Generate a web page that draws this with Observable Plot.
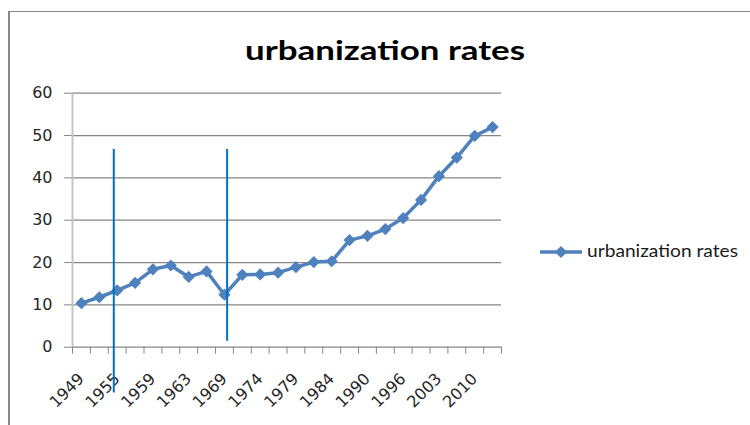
<!DOCTYPE html>
<html><head><meta charset="utf-8">
<script src="https://cdn.jsdelivr.net/npm/d3@7"></script>
<script src="https://cdn.jsdelivr.net/npm/@observablehq/plot@0.6"></script>
<style>
body{margin:0;background:#fff;}
#wrap{position:relative;width:750px;height:425px;overflow:hidden;background:#fff;}
#wrap > svg{position:absolute;left:0;top:0;}
#frame{position:absolute;left:8px;top:11px;width:760px;height:430px;border-top:1px solid #868686;border-left:2px solid #868686;}
#overlay{position:absolute;left:0;top:0;pointer-events:none;}
</style>
</head><body>
<div id="wrap"><div id="frame"></div></div>
<script>
// Data
const years = [1949,1952,1955,1957,1959,1961,1963,1966,1969,1971,1974,1976,1979,1981,1984,1987,1990,1993,1996,2000,2003,2006,2010,2012];
const rates = [10.4,11.8,13.4,15.2,18.4,19.3,16.6,17.9,12.4,17.1,17.2,17.6,18.9,20.1,20.3,25.3,26.3,27.9,30.5,34.8,40.4,44.8,49.9,52.0];
const yTicks = [0,10,20,30,40,50,60];
const seriesName = "urbanization rates";
const titleText = "urbanization rates";
// annotation lines drawn on the chart (category position, y from, y to)
const markerAt = [1.81, 8.15];
const markerFrom = [-10.8, 1.4];
const markerTo = [46.7, 46.7];

const data = years.map((y, i) => ({i, year: y, rate: rates[i]}));
const labelIdx = years.map((d, i) => i).filter(i => i % 2 === 0);
const boundaries = d3.range(0, years.length + 1).map(k => k - 0.5);
const markers = markerAt.map((a, k) => ({at: a, from: markerFrom[k], to: markerTo[k]}));

const chart = Plot.plot({
  width: 750, height: 425,
  marginLeft: 72, marginRight: 249, marginTop: 92.7, marginBottom: 78.3,
  style: {fontFamily: "'DejaVu Sans', sans-serif", fontSize: "16px", color: "#262626", background: "transparent", overflow: "visible"},
  x: {type: "linear", domain: [-0.5, years.length - 0.5], axis: null},
  y: {domain: [0, 60], axis: null},
  marks: [
    Plot.ruleY(yTicks, {stroke: "#868686", strokeWidth: 1.3}),
    Plot.axisY(yTicks, {tickSize: 8, tickPadding: 12, stroke: "#868686", fill: "#262626",
      fontFamily: "DejaVu Sans", fontSize: 16, tickFormat: d => String(d)}),
    Plot.ruleX([-0.5], {y1: 0, y2: 60, stroke: "#c4c4c4", strokeWidth: 2}),
    Plot.axisX(boundaries, {tickSize: 7, tickFormat: () => "", stroke: "#868686"}),
    Plot.axisX(labelIdx, {tickSize: 0, tickPadding: 29, tickRotate: -45, tickFormat: i => String(years[i]),
      fill: "#262626", fontFamily: "DejaVu Sans", fontSize: 16}),
    Plot.line(data, {x: "i", y: "rate", stroke: "#4f81bd", strokeWidth: 3.5}),
    Plot.dot(data, {x: "i", y: "rate", symbol: "diamond2", fill: "#4f81bd", stroke: "none", r: 5.5}),
    Plot.ruleX(markers, {x: "at", y1: "from", y2: "to", stroke: "#0070c0", strokeWidth: 2})
  ]
});
document.getElementById("wrap").appendChild(chart);

// Title and legend overlay
const ov = d3.select("#wrap").append("svg").attr("id", "overlay").attr("width", 750).attr("height", 425);
ov.append("text").attr("x", 385).attr("y", 60).attr("text-anchor", "middle")
  .attr("font-family", "Lato").attr("font-weight", "bold").attr("font-size", 26)
  .attr("textLength", 280).attr("lengthAdjust", "spacingAndGlyphs").attr("fill", "#000").text(titleText);
const lg = ov.append("g");
lg.append("line").attr("x1", 540).attr("x2", 582).attr("y1", 252).attr("y2", 252).attr("stroke", "#4f81bd").attr("stroke-width", 3.5);
lg.append("path").attr("d", d3.symbol(d3.symbolDiamond2, 95)()).attr("transform", "translate(561,252)").attr("fill", "#4f81bd");
lg.append("text").attr("x", 587).attr("y", 257).attr("font-family", "Lato").attr("font-size", 17)
  .attr("textLength", 151).attr("lengthAdjust", "spacingAndGlyphs").attr("fill", "#1a1a1a").text(seriesName);
</script>
</body></html>
